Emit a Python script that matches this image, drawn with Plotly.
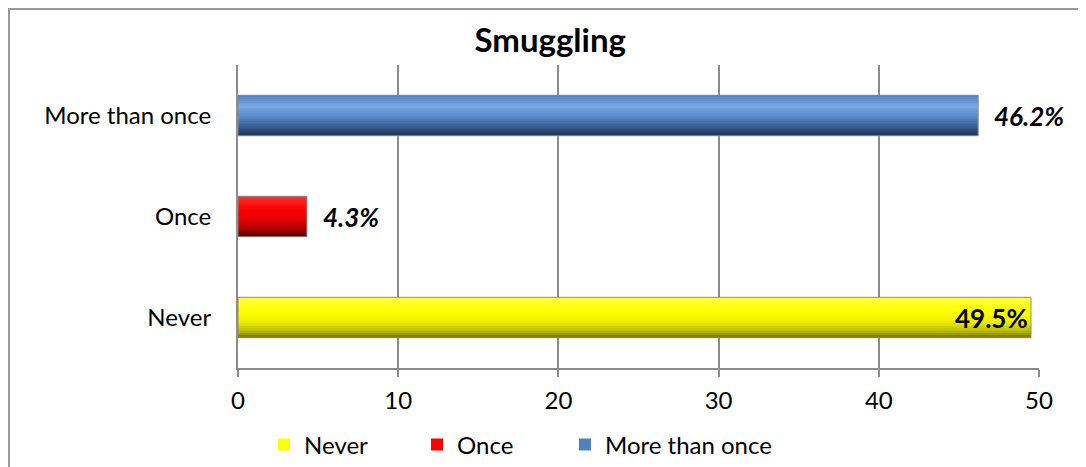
import plotly.graph_objects as go

categories = ["Never", "Once", "More than once"]
values = [49.5, 4.3, 46.2]
labels = ["49.5%", "4.3%", "46.2%"]
base_colors = ["#ffff00", "#ff0000", "#4f81bd"]

# gradient stops per bar, from top edge (0) to bottom edge (1)
grad_stops = {
    "Never": [(0, "#ffff40"), (0.3, "#ffff00"), (0.6, "#eeee00"), (0.85, "#b4b400"), (1, "#5c5c00")],
    "Once": [(0, "#ff3030"), (0.3, "#ff0000"), (0.6, "#e00000"), (0.85, "#9a0000"), (1, "#4a0000")],
    "More than once": [(0, "#4f80c0"), (0.25, "#7aa8e3"), (0.5, "#5a8bcc"), (0.8, "#33578a"), (1, "#1c2d47")],
}

font = "Lato, 'Open Sans', sans-serif"
bar_w = 0.4
n_bands = 24

# page has an 8px body margin, so the figure is a bit smaller than the window
W, H = 1078, 459
TOP, BOT = 57, 99
plot_h = H - TOP - BOT

# one legend per entry so the spacing can follow the original
legend_ids = ["legend", "legend2", "legend3"]
legend_x = [0.0325, 0.2235, 0.4082]


def hex_rgb(h):
    h = h.lstrip("#")
    return [int(h[i:i + 2], 16) for i in (0, 2, 4)]


def grad_color(stops, t):
    for (t0, c0), (t1, c1) in zip(stops, stops[1:]):
        if t0 <= t <= t1:
            f = (t - t0) / (t1 - t0) if t1 > t0 else 0
            a, b = hex_rgb(c0), hex_rgb(c1)
            return "rgb(%d,%d,%d)" % tuple(round(a[i] + (b[i] - a[i]) * f) for i in range(3))
    return stops[-1][1]


fig = go.Figure()

# base bars (give the legend)
for cat, v, col, lg in zip(categories, values, base_colors, legend_ids):
    fig.add_trace(go.Bar(
        y=[cat], x=[v], orientation="h", name=cat, width=bar_w, legend=lg,
        marker=dict(color=col, line=dict(width=0)), hoverinfo="skip",
    ))

# gradient bands on top
h = bar_w / n_bands
for k in range(n_bands):
    t = 1 - (k + 0.5) / n_bands  # k=0 is the bottom band
    fig.add_trace(go.Bar(
        y=categories, x=values, orientation="h", width=h, offset=-bar_w / 2 + k * h,
        marker=dict(color=[grad_color(grad_stops[c], t) for c in categories], line=dict(width=0)),
        showlegend=False, hoverinfo="skip",
    ))

# outline
fig.add_trace(go.Bar(
    y=categories, x=values, orientation="h", width=bar_w,
    marker=dict(color="rgba(0,0,0,0)", line=dict(color="#8a8a8a", width=1)),
    showlegend=False, hoverinfo="skip",
))

# data labels
for cat, v, lab in zip(categories, values, labels):
    if cat == "Never":
        fig.add_annotation(x=v, y=cat, text="<b>%s</b>" % lab, showarrow=False,
                           xanchor="right", xshift=-1, font=dict(size=26, color="black", family=font))
    else:
        fig.add_annotation(x=v, y=cat, text="<b><i>%s</i></b>" % lab, showarrow=False,
                           xanchor="left", xshift=14, font=dict(size=26, color="black", family=font))

# chart border (left and top edges of the chart frame)
top_y = 1 + (TOP - 1) / plot_h
fig.add_shape(type="line", xref="paper", yref="paper", x0=-229 / 801, x1=-229 / 801, y0=-0.6, y1=1.3,
              line=dict(color="#9a9a9a", width=2), layer="below")
fig.add_shape(type="line", xref="paper", yref="paper", x0=-229 / 801, x1=1.2, y0=top_y, y1=top_y,
              line=dict(color="#9a9a9a", width=2), layer="below")

legends = {}
for lg, lx in zip(legend_ids, legend_x):
    legends[lg] = dict(orientation="h", x=lx, xanchor="left", y=0.048, yanchor="middle", yref="container",
                       font=dict(size=24), bgcolor="rgba(0,0,0,0)")

fig.update_layout(
    width=W, height=H,
    margin=dict(l=230, r=47, t=TOP, b=BOT, autoexpand=False),
    paper_bgcolor="white", plot_bgcolor="white",
    barmode="overlay",
    title=dict(text="<b>Smuggling</b>", x=0.503, xanchor="center", y=0.93, yanchor="middle",
               font=dict(size=33, color="black", family=font)),
    font=dict(family=font, size=24, color="black"),
    xaxis=dict(range=[0, 50], dtick=10, tick0=0, showgrid=True, gridcolor="#8c8c8c", gridwidth=2,
               showline=True, linecolor="#8c8c8c", linewidth=2, ticks="outside", ticklen=7,
               tickcolor="#8c8c8c", tickwidth=2, ticklabelstandoff=3, zeroline=False,
               tickfont=dict(size=24), automargin=False),
    yaxis=dict(categoryorder="array", categoryarray=categories, showline=True, linecolor="#8c8c8c",
               linewidth=2, showgrid=False, ticks="", ticklabelstandoff=20, tickfont=dict(size=24),
               automargin=False),
    showlegend=True,
    **legends,
)

fig.write_html("out.html")
